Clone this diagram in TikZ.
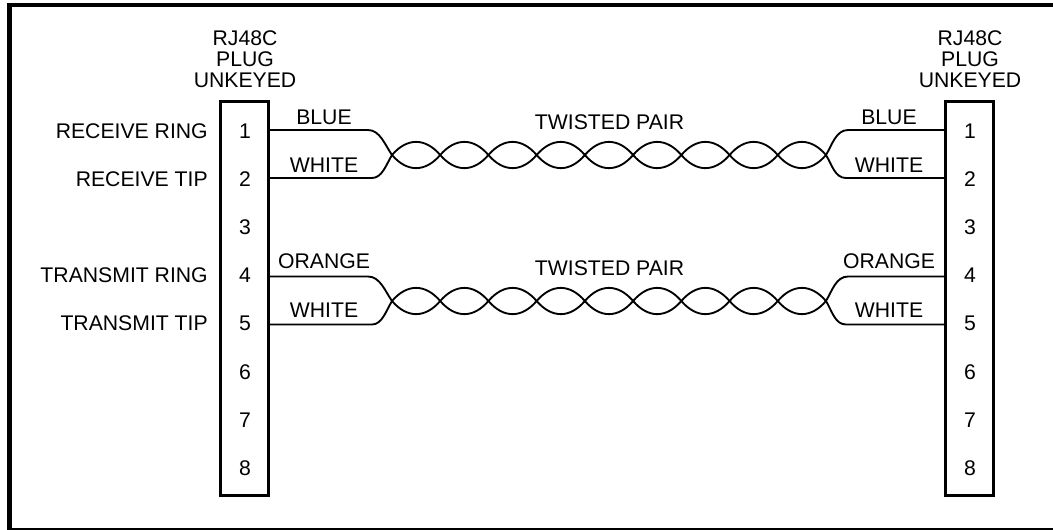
\documentclass[tikz,border=0pt]{standalone}
\usepackage{fontspec}
\setmainfont{Liberation Sans}
\tikzset{
 frameline/.style={line width=3.4pt,line cap=rect},
 plugbox/.style={draw,line width=2.25pt,minimum width=36pt,minimum height=295.5pt,inner sep=0pt},
 lbl/.style={font=\fontsize{15.9}{15.75}\selectfont,inner sep=0pt},
 wire/.style={line width=1.4pt},
}
\begin{document}
\begin{tikzpicture}[x=0.75pt,y=-0.75pt]
\useasboundingbox (0,0) rectangle (1053,529);
\coordinate (f1) at (1053,5);
\coordinate (f2) at (9.3,5);
\coordinate (f3) at (9.3,530);
\coordinate (f4) at (1053,530);
\draw[frameline] (f1) -- (f2) -- (f3) -- (f4);
\node[plugbox] (L) at (244.5,298.5) {};
\node[plugbox] (R) at (969.5,298.5) {};
\foreach \n/\y in {1/131,2/179,3/227,4/275.5,5/323.5,6/372,7/420,8/468}{
 \node[lbl] (ln\n) at (245,\y) {\n};
 \node[lbl] (rn\n) at (970,\y) {\n};
}
\node[lbl,align=center,anchor=north] (lt) at (245,30) {RJ48C\\PLUG\\UNKEYED};
\node[lbl,align=center,anchor=north] (rt) at (970,30) {RJ48C\\PLUG\\UNKEYED};
\node[lbl,anchor=east] (a1) at (208,131) {RECEIVE RING};
\node[lbl,anchor=east] (a2) at (208,179) {RECEIVE TIP};
\node[lbl,anchor=east] (a4) at (208,275) {TRANSMIT RING};
\node[lbl,anchor=east] (a5) at (208,323) {TRANSMIT TIP};
\node[lbl] (tp1) at (609.5,122.5) {TWISTED PAIR};
\node[lbl] (tp2) at (609.5,268) {TWISTED PAIR};
\node[lbl] (b1) at (324,117) {BLUE};
\node[lbl] (w1) at (324,165) {WHITE};
\node[lbl] (o2) at (324,261) {ORANGE};
\node[lbl] (w2) at (324,310) {WHITE};
\node[lbl] (b3) at (889,117) {BLUE};
\node[lbl] (w3) at (889,165) {WHITE};
\node[lbl] (o4) at (889,261) {ORANGE};
\node[lbl] (w4) at (889,310) {WHITE};
\foreach \t/\b/\m in {130/178/155,276.5/324.5/301}{
 \coordinate (lt) at (L.east|-0,\t);
 \coordinate (lb) at (L.east|-0,\b);
 \coordinate (rt) at (R.west|-0,\t);
 \coordinate (rb) at (R.west|-0,\b);
 \coordinate (xl) at (392,\m);
 \coordinate (xr) at (826,\m);
 \draw[wire] (lt) -- (368,\t) .. controls (380,\t) and (385,\m-10) .. (xl);
 \draw[wire] (lb) -- (372,\b) .. controls (382,\b) and (386,\m+10) .. (xl);
 \draw[wire] (rt) -- (848,\t) .. controls (836,\t) and (832,\m-10) .. (xr);
 \draw[wire] (rb) -- (846,\b) .. controls (835,\b) and (832,\m+10) .. (xr);
 \foreach \i in {0,...,8}{
  \pgfmathsetmacro{\xa}{392+48.22*\i}
  \pgfmathsetmacro{\xb}{392+48.22*(\i+1)}
  \draw[wire] (\xa,\m) .. controls (\xa+15,\m-17.5) and (\xb-15,\m-17.5) .. (\xb,\m);
  \draw[wire] (\xa,\m) .. controls (\xa+15,\m+17.5) and (\xb-15,\m+17.5) .. (\xb,\m);
 }
}
\end{tikzpicture}
\end{document}
